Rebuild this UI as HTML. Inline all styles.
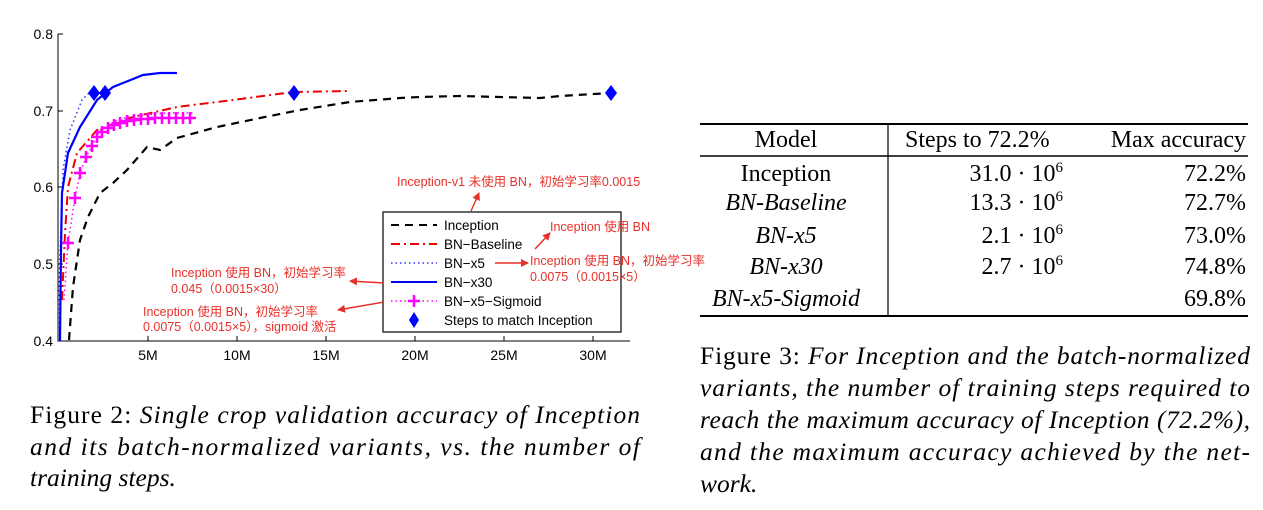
<!DOCTYPE html>
<html><head><meta charset="utf-8"><style>
body{margin:0;background:#fff;width:1263px;height:510px;overflow:hidden}
svg{display:block}
.s{font-family:"Liberation Sans",sans-serif}
.r{font-family:"Liberation Sans","Noto Sans CJK SC",sans-serif;fill:#e8302a;font-size:12.5px}
.t{font-family:"Liberation Serif",serif;font-size:24px}
.c{font-family:"Liberation Serif",serif;font-size:25.5px}
</style></head><body>
<svg width="1263" height="510" viewBox="0 0 1263 510" xmlns="http://www.w3.org/2000/svg">
<defs><marker id="a" markerWidth="8" markerHeight="8" refX="7" refY="4" orient="auto" markerUnits="userSpaceOnUse"><path d="M0,0L8,4L0,8z" fill="#e8302a"/></marker></defs>
<g stroke="#000" stroke-width="1" fill="none">
<path d="M58,34V341H630"/>
<path d="M58,34h5M58,111h5M58,187h5M58,264h5"/>
<path d="M148,341v-5M237,341v-5M326,341v-5M415,341v-5M504,341v-5M593,341v-5"/>
</g>
<g class="s" font-size="14" text-anchor="end">
<text x="53" y="39">0.8</text><text x="53" y="116">0.7</text><text x="53" y="192">0.6</text><text x="53" y="269">0.5</text><text x="53" y="346">0.4</text>
</g>
<g class="s" font-size="14" text-anchor="middle">
<text x="148" y="360">5M</text><text x="237" y="360">10M</text><text x="326" y="360">15M</text><text x="415" y="360">20M</text><text x="504" y="360">25M</text><text x="593" y="360">30M</text>
</g>
<polyline fill="none" stroke="#000" stroke-width="2.2" stroke-dasharray="8,6" points="69,340 73,287 80,240 88,217 100,193 113,183 127,170 147,147 160,150 177,138 217,127 260,118 300,110 350,102 400,98 420,97 460,96 500,97 540,98 560,96 611,93"/>
<polyline fill="none" stroke="#e00" stroke-width="2" stroke-dasharray="9,4,2,4" points="62,300 65,233 68,187 77,153 97,130 133,117 177,107 233,100 293,92 350,91"/>
<polyline fill="none" stroke="#33f" stroke-width="1.5" stroke-dasharray="1.5,3" points="58,341 60,253 63,170 70,130 82,100 90,92"/>
<polyline fill="none" stroke="#f0f" stroke-width="1.5" stroke-dasharray="1.5,3" points="64,300 68,243 75,198 80,173 86,157 92,146 100,130 117,120 133,116 167,113 193,113"/>
<g stroke="#f0f" stroke-width="2.5" fill="none">
<path d="M68,237v12M62,243h12 M75,192v12M69,198h12 M80,167v12M74,173h12 M86,151v12M80,157h12 M92,140v12M86,146h12 M97,131v12M91,137h12 M102,126v12M96,132h12 M108,122v12M102,128h12 M114,119v12M108,125h12 M120,117v12M114,123h12 M127,115v12M121,121h12 M134,114v12M128,120h12 M141,113v12M135,119h12 M148,113v12M142,119h12 M155,112v12M149,118h12 M162,112v12M156,118h12 M169,112v12M163,118h12 M176,112v12M170,118h12 M183,112v12M177,118h12 M190,112v12M184,118h12"/>
</g>
<polyline fill="none" stroke="#00f" stroke-width="2.2" points="60,341 61,250 62,193 68,153 80,127 97,100 113,87 143,75 160,73 177,73"/>
<g fill="#00f">
<path d="M94,85l6,8l-6,8l-6,-8z"/><path d="M105,85l6,8l-6,8l-6,-8z"/><path d="M294,85l6,8l-6,8l-6,-8z"/><path d="M611,85l6,8l-6,8l-6,-8z"/>
</g>
<rect x="383" y="212" width="238" height="120" fill="#fff" stroke="#000" stroke-width="1.2"/>
<line x1="391" y1="225" x2="437" y2="225" stroke="#000" stroke-width="2" stroke-dasharray="8,6"/>
<line x1="391" y1="244" x2="437" y2="244" stroke="#e00" stroke-width="2" stroke-dasharray="9,4,2,4"/>
<line x1="391" y1="263" x2="437" y2="263" stroke="#33f" stroke-width="1.5" stroke-dasharray="1.5,3"/>
<line x1="391" y1="282" x2="437" y2="282" stroke="#00f" stroke-width="2"/>
<line x1="391" y1="301" x2="437" y2="301" stroke="#f0f" stroke-width="1.5" stroke-dasharray="1.5,3"/>
<path d="M414,295v12M408,301h12" stroke="#f0f" stroke-width="2.5"/>
<path d="M414,312l5,8l-5,8l-5,-8z" fill="#00f"/>
<g class="s" font-size="13.5">
<text x="444" y="230">Inception</text><text x="444" y="249">BN−Baseline</text><text x="444" y="268">BN−x5</text><text x="444" y="287">BN−x30</text><text x="444" y="306">BN−x5−Sigmoid</text><text x="444" y="325">Steps to match Inception</text>
</g>
<g class="r">
<text x="397" y="186">Inception-v1 未使用 BN，初始学习率0.0015</text>
<text x="550" y="231">Inception 使用 BN</text>
<text x="530" y="265">Inception 使用 BN，初始学习率</text><text x="530" y="281">0.0075（0.0015×5）</text>
<text x="171" y="277">Inception 使用 BN，初始学习率</text><text x="171" y="293">0.045（0.0015×30）</text>
<text x="143" y="316">Inception 使用 BN，初始学习率</text><text x="143" y="331">0.0075（0.0015×5），sigmoid 激活</text>
</g>
<g stroke="#e8302a" stroke-width="1.5" fill="none" marker-end="url(#a)">
<line x1="471" y1="211" x2="479" y2="193"/>
<line x1="535" y1="249" x2="550" y2="233"/>
<line x1="495" y1="263" x2="528" y2="263"/>
<line x1="384" y1="283" x2="350" y2="281"/>
<line x1="384" y1="302" x2="338" y2="310"/>
</g>
<g class="c">
<text x="30" y="423" textLength="610" lengthAdjust="spacing">Figure 2:  <tspan font-style="italic">Single crop validation accuracy of Inception</tspan></text>
<text x="30" y="455" textLength="610" lengthAdjust="spacing" font-style="italic">and its batch-normalized variants, vs.  the number of</text>
<text x="30" y="486" font-style="italic">training steps.</text>
<text x="700" y="364" textLength="550" lengthAdjust="spacing">Figure 3: <tspan font-style="italic">For Inception and the batch-normalized</tspan></text>
<text x="700" y="396" textLength="550" lengthAdjust="spacing" font-style="italic">variants, the number of training steps required to</text>
<text x="700" y="428" textLength="550" lengthAdjust="spacing" font-style="italic">reach the maximum accuracy of Inception (72.2%),</text>
<text x="700" y="460" textLength="550" lengthAdjust="spacing" font-style="italic">and the maximum accuracy achieved by the net-</text>
<text x="700" y="492" font-style="italic">work.</text>
</g>
<g stroke="#000">
<line x1="700" y1="124" x2="1248" y2="124" stroke-width="2"/>
<line x1="700" y1="156" x2="1248" y2="156" stroke-width="1.5"/>
<line x1="700" y1="316" x2="1248" y2="316" stroke-width="2"/>
<line x1="888" y1="124" x2="888" y2="316" stroke-width="1.2"/>
</g>
<g class="t">
<text x="786" y="147" text-anchor="middle">Model</text>
<text x="905" y="147">Steps to 72.2%</text>
<text x="1246" y="147" text-anchor="end">Max accuracy</text>
<text x="786" y="181" text-anchor="middle">Inception</text>
<text x="786" y="210" text-anchor="middle" font-style="italic">BN-Baseline</text>
<text x="786" y="243" text-anchor="middle" font-style="italic">BN-x5</text>
<text x="786" y="274" text-anchor="middle" font-style="italic">BN-x30</text>
<text x="786" y="306" text-anchor="middle" font-style="italic">BN-x5-Sigmoid</text>
<g text-anchor="end">
<text x="1063" y="181">31.0 · 10<tspan font-size="15" dy="-9">6</tspan></text>
<text x="1063" y="210">13.3 · 10<tspan font-size="15" dy="-9">6</tspan></text>
<text x="1063" y="243">2.1 · 10<tspan font-size="15" dy="-9">6</tspan></text>
<text x="1063" y="274">2.7 · 10<tspan font-size="15" dy="-9">6</tspan></text>
<text x="1246" y="181">72.2%</text><text x="1246" y="210">72.7%</text><text x="1246" y="243">73.0%</text><text x="1246" y="274">74.8%</text><text x="1246" y="306">69.8%</text>
</g>
</g>
</svg>
</body></html>
